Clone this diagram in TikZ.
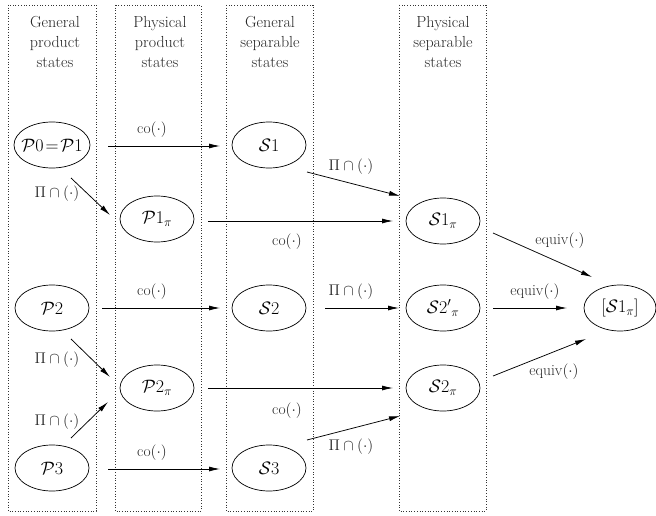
\RequirePackage{fix-cm}
\documentclass[tikz,border=0pt]{standalone}
\usetikzlibrary{arrows.meta,shapes.geometric}
\begin{document}
\begin{tikzpicture}[x=1pt,y=-1pt,
  every node/.style={font=\fontsize{15.5}{19}\selectfont, text=black!85},
  colbox/.style={draw=black!80, dotted, line width=0.7pt},
  hdr/.style={align=center, inner sep=0pt, font=\fontsize{16}{20}\selectfont},
  st/.style={draw=black, ellipse, line width=0.7pt, minimum width=74, minimum height=46, inner sep=0pt, font=\fontsize{18}{22}\selectfont, text=black},
  arr/.style={draw=black, line width=0.75pt, -{Latex[length=11,width=5]}},
  lbl/.style={inner sep=0pt}]
\useasboundingbox (0,0) rectangle (656,516);
% columns
\draw[colbox] (8,5) rectangle (96,511);
\draw[colbox] (115,5) rectangle (201,511);
\draw[colbox] (226,5) rectangle (313,511);
\draw[colbox] (399,5) rectangle (486,511);
\node[hdr] (h1) at (55,42) {General\\product\\states};
\node[hdr] (h2) at (160,42) {Physical\\product\\states};
\node[hdr] (h3) at (270,42) {General\\separable\\states};
\node[hdr] (h4) at (443,42) {Physical\\separable\\states};
% states
\node[st, minimum width=76, inner xsep=-12pt, inner ysep=-4pt] (P0) at (52,145) {$\mathcal{P}0\mkern2mu{=}\mkern2mu\mathcal{P}1$};
\node[st] (S1) at (269,145) {$\mathcal{S}1$};
\node[st] (P1p) at (157,219) {$\mathcal{P}1_\pi$};
\node[st] (S1p) at (443,221) {$\mathcal{S}1_\pi$};
\node[st] (P2) at (52,308) {$\mathcal{P}2$};
\node[st] (S2) at (269,308) {$\mathcal{S}2$};
\node[st] (S2q) at (443,308) {$\mathcal{S}2'{}_\pi$};
\node[st, minimum width=72] (E) at (620,308) {$[\mathcal{S}1_\pi]$};
\node[st] (P2p) at (157,388) {$\mathcal{P}2_\pi$};
\node[st] (S2p) at (443,388) {$\mathcal{S}2_\pi$};
\node[st] (P3) at (52,468) {$\mathcal{P}3$};
\node[st] (S3) at (269,468) {$\mathcal{S}3$};
% arrows
\draw[arr] ([shift={(56,1)}]P0.center) -- ([shift={(-49,1)}]S1.center);
\draw[arr] ([shift={(19,33)}]P0.center) -- ([shift={(-47,-4)}]P1p.center);
\draw[arr] ([shift={(38,27)}]S1.center) -- ([shift={(-43,-25)}]S1p.center);
\draw[arr] ([shift={(51,2)}]P1p.center) -- ([shift={(-50,0)}]S1p.center);
\draw[arr] ([shift={(50,12)}]S1p.center) -- ([shift={(-28,-31)}]E.center);
\draw[arr] ([shift={(50,0)}]P2.center) -- ([shift={(-49,0)}]S2.center);
\draw[arr] ([shift={(56,0)}]S2.center) -- ([shift={(-44,0)}]S2q.center);
\draw[arr] ([shift={(50,0)}]S2q.center) -- ([shift={(-53,0)}]E.center);
\draw[arr] ([shift={(50,-12)}]S2p.center) -- ([shift={(-34,31)}]E.center);
\draw[arr] ([shift={(19,31)}]P2.center) -- ([shift={(-47,-11)}]P2p.center);
\draw[arr] ([shift={(19,-30)}]P3.center) -- ([shift={(-49,14)}]P2p.center);
\draw[arr] ([shift={(51,0)}]P2p.center) -- ([shift={(-50,0)}]S2p.center);
\draw[arr] ([shift={(56,1)}]P3.center) -- ([shift={(-49,1)}]S3.center);
\draw[arr] ([shift={(38,-28)}]S3.center) -- ([shift={(-43,28)}]S2p.center);
% labels
\node[lbl] (l1) at (152,130) {co$(\cdot)$};
\node[lbl] (l2) at (57,194) {$\Pi\cap(\cdot)$};
\node[lbl] (l3) at (351,167) {$\Pi\cap(\cdot)$};
\node[lbl] (l4) at (287,242) {co$(\cdot)$};
\node[lbl] (l5) at (560,241) {equiv$(\cdot)$};
\node[lbl] (l6) at (152,292) {co$(\cdot)$};
\node[lbl] (l7) at (351,292) {$\Pi\cap(\cdot)$};
\node[lbl] (l8) at (535,292) {equiv$(\cdot)$};
\node[lbl] (l9) at (554,372) {equiv$(\cdot)$};
\node[lbl] (l10) at (57,360) {$\Pi\cap(\cdot)$};
\node[lbl] (l11) at (57,422) {$\Pi\cap(\cdot)$};
\node[lbl] (l12) at (287,411) {co$(\cdot)$};
\node[lbl] (l13) at (152,453) {co$(\cdot)$};
\node[lbl] (l14) at (351,447) {$\Pi\cap(\cdot)$};
\end{tikzpicture}
\end{document}
